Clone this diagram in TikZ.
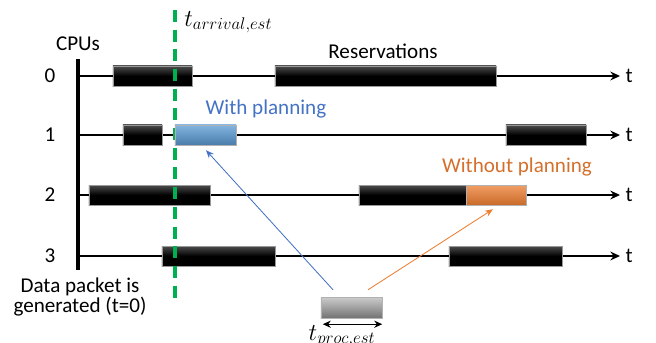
\documentclass[tikz,border=0pt]{standalone}
\usepackage{fontspec}
\setmainfont{Carlito}
\definecolor{resgreen}{HTML}{00B050}
\definecolor{resblue}{HTML}{5B9BD5}
\definecolor{resorange}{HTML}{ED7D31}
\definecolor{resarrowblue}{HTML}{4472C4}
\usetikzlibrary{arrows.meta,positioning}

\begin{document}
\begin{tikzpicture}[
    x=0.025cm, y=-0.025cm,
    font=\fontsize{15}{18}\selectfont,
    timeline/.style={line width=1.3pt, -{Stealth[length=2.4mm, width=2.2mm]}},
    resv/.style={draw=black!40, line width=0.3pt, minimum height=0.5cm, inner sep=0pt,
                 top color=black!70, bottom color=black, middle color=black},
    planbox/.style={draw=black!30, line width=0.3pt, minimum height=0.5cm, inner sep=0pt},
    pointer/.style={line width=0.6pt, -{Stealth[length=2mm, width=1.6mm]}},
    mathlabel/.style={font=\fontsize{16.5}{19}\selectfont, inner sep=0pt}
]
\useasboundingbox (0,0) rectangle (656,342);

% -- CPU axis --
\coordinate (axtop) at (78,59);
\coordinate (axbot) at (78,270);
\draw[line width=3.5pt] (axtop) -- (axbot);
\node (cpus) at (78,44) {CPUs};
\node (packet) at (80,297) [align=center, font=\fontsize{15}{14.5}\selectfont] {Data packet is\\generated (t=0)};

% -- time lines --
\coordinate (s0) at (78,76);  \coordinate (e0) at (620,76);
\coordinate (s1) at (78,135); \coordinate (e1) at (620,135);
\coordinate (s2) at (78,195); \coordinate (e2) at (620,195);
\coordinate (s3) at (78,256); \coordinate (e3) at (620,256);
\draw[timeline] (s0) -- (e0) node[right] (t0) {t};
\draw[timeline] (s1) -- (e1) node[right] (t1) {t};
\draw[timeline] (s2) -- (e2) node[right] (t2) {t};
\draw[timeline] (s3) -- (e3) node[right] (t3) {t};
\node (cpu0) at (50,76) {0};
\node (cpu1) at (50,135) {1};
\node (cpu2) at (50,195) {2};
\node (cpu3) at (50,256) {3};

% -- reservations --
\node[resv, minimum width=1.975cm] (r0a) at (152.5,76) {};
\node[resv, minimum width=5.525cm] (r0b) at (385.5,76) {};
\node[resv, minimum width=0.975cm] (r1a) at (142.5,135) {};
\node[resv, minimum width=2cm] (r1b) at (546,135) {};
\node[resv, minimum width=3.025cm] (r2a) at (149.5,195) {};
\node[resv, minimum width=2.675cm] (r2b) at (412.5,195) {};
\node[resv, minimum width=2.825cm] (r3a) at (218.5,256) {};
\node[resv, minimum width=2.825cm] (r3b) at (505.5,256) {};
\node (reserv) at (383,51) {Reservations};

% -- arrival estimate --
\coordinate (arrtop) at (175,10);
\coordinate (arrbot) at (175,298);
\draw[resgreen, line width=2.2pt, dash pattern=on 8.5pt off 5.5pt] (arrtop) -- (arrbot);
\node[mathlabel, anchor=west] (tarrival) at (184,22) {$t_{arrival,est}$};

% -- planned packet --
\node[planbox, minimum width=1.525cm, top color=resblue!75, bottom color=resblue!80!black] (blue) at (205.5,135) {};
\node[text=resarrowblue, anchor=south] (withplan) at (266,123) {With planning};
\node[planbox, minimum width=1.5cm, top color=resorange!75, bottom color=resorange!85!black] (orange) at (496,195) {};
\node[text=resorange!90!black, anchor=south] (withoutplan) at (517,181) {Without planning};

% -- processing time --
\node[planbox, minimum width=1.525cm, minimum height=0.525cm, top color=black!20, bottom color=black!55] (gray) at (351.5,307.5) {};
\draw[line width=0.6pt, {Stealth[length=2mm, width=1.8mm]}-{Stealth[length=2mm, width=1.8mm]}]
    ([shift={(2,6)}]gray.south west) -- ([shift={(0,6)}]gray.south east);
\node[mathlabel] (tproc) at (342,336) {$t_{proc,est}$};

% -- pointers --
\draw[pointer, resarrowblue] ([shift={(-18.5,-7)}]gray.north) -- ([shift={(0.5,5)}]blue.south);
\draw[pointer, resorange] ([shift={(16.5,-7)}]gray.north) -- ([shift={(-3,4)}]orange.south);

\end{tikzpicture}
\end{document}
